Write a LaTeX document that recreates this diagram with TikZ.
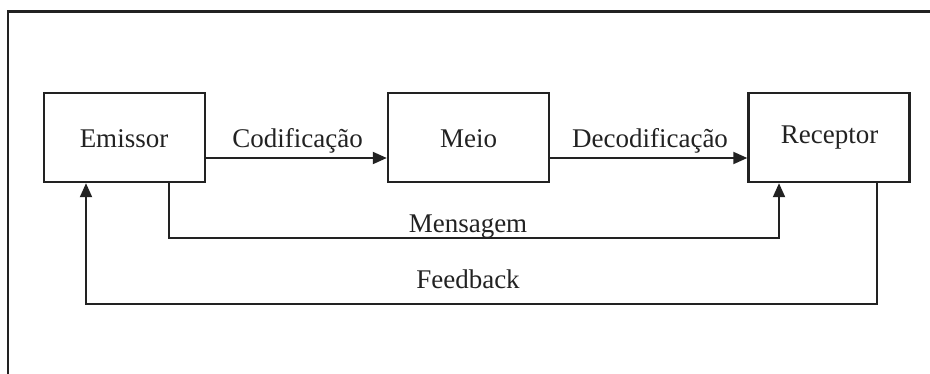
\documentclass[tikz,border=0pt]{standalone}
\usepackage{fontspec}
\setmainfont{Liberation Serif}
\usetikzlibrary{arrows.meta}
\definecolor{ink}{HTML}{222222}
\begin{document}
\begin{tikzpicture}[x=0.5pt,y=-0.5pt,
  box/.style={draw=ink,line width=1.2pt,minimum width=80.5pt,minimum height=44.5pt,inner sep=0pt},
  lbl/.style={text=ink,font=\fontsize{13.5pt}{16pt}\selectfont,inner sep=0pt,anchor=base},
  conn/.style={draw=ink,line width=1pt},
  arr/.style={conn,-{Triangle[length=7pt,width=6pt]}}]
\useasboundingbox (0,0) rectangle (930,374);
% frame
\draw[ink,line width=1.1pt] (8,374) -- (8,11.5) -- (930,11.5);
% boxes
\node[box] (E) at (124.5,137.5) {};
\node[box] (M) at (468.5,137.5) {};
\node[box] (R) at (829,137.5) {};
\node[lbl] (Et) at (124,148) {Emissor};
\node[lbl] (Mt) at (468.5,148) {Meio};
\node[lbl] (Rt) at (829.5,143) {Receptor};
% top arrows
\coordinate (ay) at (0,158);
\draw[arr] (E.east |- ay) -- (M.west |- ay);
\draw[arr] (M.east |- ay) -- (R.west |- ay);
\node[lbl] (cod) at (297.5,148) {Codificação};
\node[lbl] (dec) at (650,147) {Decodificação};
% Mensagem
\coordinate (m1) at (169,238);
\coordinate (m2) at (779,238);
\draw[arr] (E.south -| m1) -- (m1) -- (m2) -- (R.south -| m2);
\node[lbl] (msg) at (468,232) {Mensagem};
% Feedback
\coordinate (f1) at (877,303.5);
\coordinate (f2) at (86,303.5);
\draw[arr] (R.south -| f1) -- (f1) -- (f2) -- (E.south -| f2);
\node[lbl] (fb) at (468,288) {Feedback};
\end{tikzpicture}
\end{document}
